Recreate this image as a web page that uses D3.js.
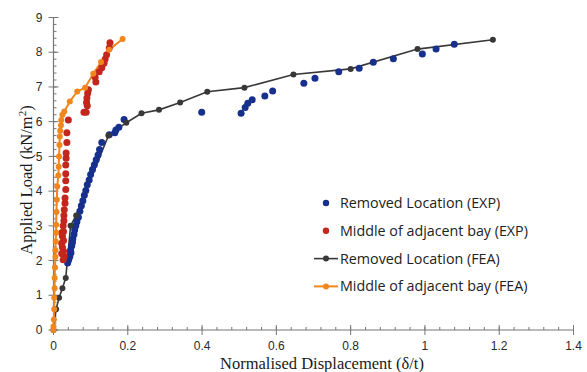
<!DOCTYPE html>
<html>
<head>
<meta charset="utf-8">
<script src="https://cdn.jsdelivr.net/npm/d3@7"></script>
<style>
  html, body { margin: 0; padding: 0; background: #fff; }
  svg { display: block; }
</style>
</head>
<body>
<svg id="chart" width="587" height="372"></svg>
<script>
// Load–displacement response: experiment (dots) and finite-element analysis (lines)
const xTicks = [0, 0.2, 0.4, 0.6, 0.8, 1, 1.2, 1.4];
const yTicks = [0, 1, 2, 3, 4, 5, 6, 7, 8, 9];
const seriesNames = [
  "Removed Location (EXP)",
  "Middle of adjacent bay (EXP)",
  "Removed Location (FEA)",
  "Middle of adjacent bay (FEA)"
];

// [normalised displacement, applied load]
const removedExp = [
  [0.038,1.93],[0.041,2.02],[0.044,2.12],[0.047,2.22],[0.046,2.3],[0.049,2.42],[0.051,2.52],
  [0.052,2.62],[0.055,2.75],[0.057,2.88],[0.060,3.0],[0.063,3.12],[0.067,3.25],[0.071,3.42],
  [0.075,3.58],[0.079,3.72],[0.083,3.88],[0.087,4.02],[0.091,4.18],[0.096,4.32],[0.100,4.48],
  [0.105,4.62],[0.110,4.76],[0.115,4.90],[0.120,5.04],[0.124,5.20],[0.130,5.40],[0.150,5.62],
  [0.165,5.68],[0.168,5.76],[0.176,5.84],[0.190,6.06],
  [0.399,6.27],[0.505,6.24],[0.516,6.41],[0.523,6.53],[0.535,6.63],[0.569,6.74],[0.590,6.88],
  [0.674,7.11],[0.704,7.25],[0.768,7.44],[0.823,7.54],[0.861,7.71],[0.915,7.81],[0.993,7.95],
  [1.030,8.09],[1.079,8.23]
];

const middleExp = [
  [0.026,2.02],[0.029,2.12],[0.022,2.20],[0.027,2.27],[0.024,2.38],[0.022,2.50],[0.027,2.58],
  [0.024,2.70],[0.022,2.80],[0.027,2.84],[0.026,3.00],[0.028,3.15],[0.028,3.30],[0.029,3.46],
  [0.031,3.65],[0.031,3.80],[0.033,4.05],[0.033,4.30],[0.033,4.50],[0.033,4.75],[0.034,4.95],
  [0.034,5.10],[0.036,5.40],[0.036,5.68],[0.040,6.05],
  [0.082,6.27],[0.088,6.27],[0.091,6.46],[0.089,6.55],[0.090,6.68],[0.092,6.82],[0.094,6.92],
  [0.114,7.14],[0.112,7.28],[0.123,7.44],[0.130,7.55],[0.136,7.68],[0.139,7.80],[0.143,7.93],
  [0.150,8.12],[0.152,8.27]
];

const removedFea = [
  [0,0],[0.007,0.60],[0.015,0.93],[0.024,1.20],[0.033,1.50],[0.046,3.00],[0.061,3.30],
  [0.148,5.60],[0.196,5.97],[0.237,6.24],[0.284,6.34],[0.341,6.55],[0.414,6.86],[0.514,6.98],
  [0.646,7.36],[0.800,7.52],[0.980,8.09],[1.183,8.36]
];

const middleFea = [
  [0,0],[0,0.10],[0.001,0.30],[0.002,0.60],[0.002,0.93],[0.003,1.20],[0.003,1.50],[0.004,1.80],
  [0.005,2.10],[0.005,2.30],[0.006,2.55],[0.007,2.80],[0.007,3.03],[0.008,3.40],[0.009,3.75],
  [0.010,4.13],[0.013,4.45],[0.014,4.70],[0.015,5.00],[0.016,5.33],[0.017,5.57],[0.018,5.74],
  [0.020,5.90],[0.021,6.05],[0.024,6.20],[0.029,6.29],[0.044,6.58],[0.064,6.87],[0.085,6.98],
  [0.107,7.38],[0.128,7.72],[0.150,8.07],[0.186,8.38]
];

const colors = {
  blue: "#16308c",
  red: "#c3261c",
  dark: "#383838",
  orange: "#f0861c",
  axis: "#777777",
  text: "#2a2a2a"
};

const svg = d3.select("#chart");
const x = d3.scaleLinear().domain([0, 1.4]).range([53.5, 573.5]);
const y = d3.scaleLinear().domain([0, 9]).range([330, 17.5]);

// Axes with ticks crossing the axis line
const xMinor = d3.range(0, 1.4001, 0.04);
const yMinor = d3.range(0, 9.0001, 0.2);

const gx = svg.append("g").attr("transform", `translate(0,${y(0)})`);
gx.append("line").attr("x1", x(0)).attr("x2", x(1.4)).attr("stroke", colors.axis).attr("stroke-width", 1.2);
gx.selectAll("line.minor").data(xMinor).join("line")
  .attr("class", "minor")
  .attr("x1", d => x(d)).attr("x2", d => x(d)).attr("y1", -3).attr("y2", 0)
  .attr("stroke", colors.axis);
gx.selectAll("line.major").data(xTicks).join("line")
  .attr("class", "major")
  .attr("x1", d => x(d)).attr("x2", d => x(d)).attr("y1", -5).attr("y2", 5)
  .attr("stroke", colors.axis);
gx.selectAll("text").data(xTicks).join("text")
  .attr("x", d => x(d)).attr("y", 20)
  .attr("text-anchor", "middle")
  .attr("font-family", "Liberation Sans, Arial, sans-serif")
  .attr("font-size", 12)
  .attr("fill", colors.text)
  .text(d => d3.format("~g")(d));

const gy = svg.append("g").attr("transform", `translate(${x(0)},0)`);
gy.append("line").attr("y1", y(0)).attr("y2", y(9)).attr("stroke", colors.axis).attr("stroke-width", 1.2);
gy.selectAll("line.minor").data(yMinor).join("line")
  .attr("class", "minor")
  .attr("y1", d => y(d)).attr("y2", d => y(d)).attr("x1", 0).attr("x2", 3)
  .attr("stroke", colors.axis);
gy.selectAll("line.major").data(yTicks).join("line")
  .attr("class", "major")
  .attr("y1", d => y(d)).attr("y2", d => y(d)).attr("x1", -5).attr("x2", 5)
  .attr("stroke", colors.axis);
gy.selectAll("text").data(yTicks).join("text")
  .attr("x", -11).attr("y", d => y(d)).attr("dy", "0.35em")
  .attr("text-anchor", "end")
  .attr("font-family", "Liberation Sans, Arial, sans-serif")
  .attr("font-size", 12)
  .attr("fill", colors.text)
  .text(d => d);

// Axis titles
svg.append("text")
  .attr("x", 322).attr("y", 369)
  .attr("text-anchor", "middle")
  .attr("font-family", "Liberation Serif, Times New Roman, serif")
  .attr("font-size", 16.5)
  .attr("fill", "#1a1a1a")
  .text("Normalised Displacement (δ/t)");

const yTitle = svg.append("text")
  .attr("transform", `translate(32,180) rotate(-90)`)
  .attr("text-anchor", "middle")
  .attr("font-family", "Liberation Serif, Times New Roman, serif")
  .attr("font-size", 16.5)
  .attr("fill", "#1a1a1a");
yTitle.append("tspan").text("Applied Load (kN/m");
yTitle.append("tspan").attr("font-size", 11).attr("dy", -6).text("2");
yTitle.append("tspan").attr("dy", 6).text(")");

// FEA lines
const line = d3.line().x(d => x(d[0])).y(d => y(d[1]));

svg.append("path").datum(removedFea)
  .attr("d", line).attr("fill", "none")
  .attr("stroke", colors.dark).attr("stroke-width", 1.6);
svg.append("path").datum(middleFea)
  .attr("d", line).attr("fill", "none")
  .attr("stroke", colors.orange).attr("stroke-width", 2);

// Experimental points
svg.append("g").selectAll("circle").data(removedExp).join("circle")
  .attr("cx", d => x(d[0])).attr("cy", d => y(d[1])).attr("r", 3.5)
  .attr("fill", colors.blue);
svg.append("g").selectAll("circle").data(middleExp).join("circle")
  .attr("cx", d => x(d[0])).attr("cy", d => y(d[1])).attr("r", 3.5)
  .attr("fill", colors.red);

// FEA markers
svg.append("g").selectAll("circle").data(removedFea).join("circle")
  .attr("cx", d => x(d[0])).attr("cy", d => y(d[1])).attr("r", 3)
  .attr("fill", colors.dark);
svg.append("g").selectAll("circle").data(middleFea).join("circle")
  .attr("cx", d => x(d[0])).attr("cy", d => y(d[1])).attr("r", 3)
  .attr("fill", colors.orange);

// Legend
const legendColors = [colors.blue, colors.red, colors.dark, colors.orange];
const legend = svg.append("g").attr("transform", "translate(326,203)");
seriesNames.forEach((name, i) => {
  const g = legend.append("g").attr("transform", `translate(0,${i * 27.8})`);
  if (i >= 2) {
    g.append("line").attr("x1", -12).attr("x2", 12)
      .attr("stroke", legendColors[i]).attr("stroke-width", i === 3 ? 2 : 1.6);
  }
  g.append("circle").attr("r", i >= 2 ? 3 : 3.2).attr("fill", legendColors[i]);
  g.append("text").attr("x", 14).attr("dy", "0.35em")
    .attr("font-family", "Open Sans, Liberation Sans, sans-serif")
    .attr("font-size", 14.3)
    .attr("fill", "#222")
    .text(name);
});
</script>
</body>
</html>
